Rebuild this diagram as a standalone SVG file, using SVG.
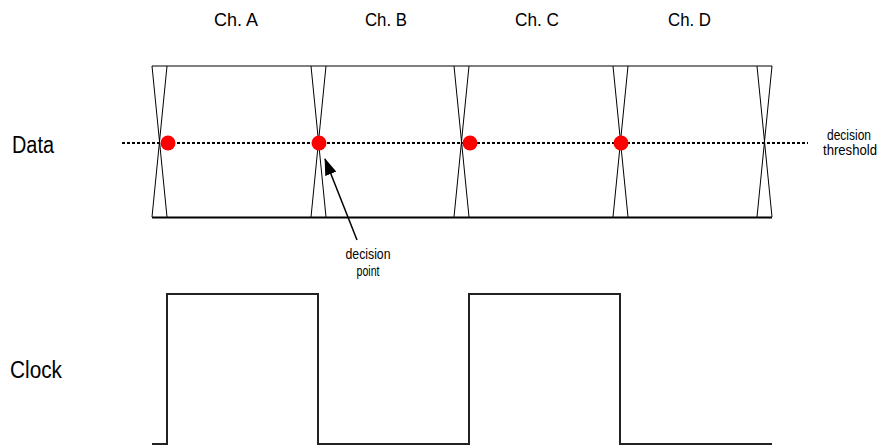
<svg xmlns="http://www.w3.org/2000/svg" width="889" height="448" viewBox="0 0 889 448">
  <style>
    text { font-family: "Liberation Sans", Arial, sans-serif; fill: #000; }
    .ch { font-size: 19px; }
    .big { font-size: 23px; }
    .small { font-size: 14px; }
    .eye { stroke: #000; stroke-width: 1; fill: none; }
    .dot { fill: #ff0000; }
  </style>
  <defs>
    <marker id="ah" viewBox="0 0 17 12" refX="16" refY="6" markerWidth="17" markerHeight="12" markerUnits="userSpaceOnUse" orient="auto">
      <path d="M0,0 L17,6 L0,12 Z" fill="#000"/>
    </marker>
  </defs>
  <rect width="889" height="448" fill="#fff"/>

  <g id="channel-labels">
    <text class="ch" x="214" y="26" textLength="44" lengthAdjust="spacingAndGlyphs">Ch. A</text>
    <text class="ch" x="365" y="26" textLength="42" lengthAdjust="spacingAndGlyphs">Ch. B</text>
    <text class="ch" x="515" y="26" textLength="44" lengthAdjust="spacingAndGlyphs">Ch. C</text>
    <text class="ch" x="668" y="26" textLength="43" lengthAdjust="spacingAndGlyphs">Ch. D</text>
  </g>

  <g id="row-labels">
    <text class="big" x="12" y="153" textLength="42" lengthAdjust="spacingAndGlyphs">Data</text>
    <text class="big" x="10" y="378" textLength="52" lengthAdjust="spacingAndGlyphs">Clock</text>
  </g>

  <g id="data-eye">
    <line x1="152" y1="66" x2="772" y2="66" stroke="#555" stroke-width="1.5"/>
    <line x1="152" y1="217.5" x2="772" y2="217.5" stroke="#000" stroke-width="2"/>
    <path class="eye" d="M152,66 L167,217 M167,66 L152,217
                         M311,66 L326,217 M326,66 L311,217
                         M454,66 L469,217 M469,66 L454,217
                         M613,66 L628,217 M628,66 L613,217
                         M757,66 L772,217 M772,66 L757,217"/>
  </g>

  <g id="threshold">
    <line x1="122" y1="143" x2="808" y2="143" stroke="#000" stroke-width="2" stroke-dasharray="3 2"/>
    <text class="small" x="849" y="140" text-anchor="middle" textLength="44" lengthAdjust="spacingAndGlyphs">decision</text>
    <text class="small" x="850" y="155" text-anchor="middle" textLength="54" lengthAdjust="spacingAndGlyphs">threshold</text>
  </g>

  <g id="decision-dots">
    <circle class="dot" cx="168" cy="143" r="7.5"/>
    <circle class="dot" cx="319" cy="143" r="7.5"/>
    <circle class="dot" cx="470" cy="143" r="7.5"/>
    <circle class="dot" cx="621" cy="143" r="7.5"/>
  </g>

  <g id="connectors">
    <line x1="357" y1="240" x2="325" y2="159" stroke="#000" stroke-width="1.5" marker-end="url(#ah)"/>
  </g>

  <g id="decision-point-label">
    <text class="small" x="368" y="259" text-anchor="middle" textLength="45" lengthAdjust="spacingAndGlyphs">decision</text>
    <text class="small" x="368" y="276" text-anchor="middle" textLength="23" lengthAdjust="spacingAndGlyphs">point</text>
  </g>

  <g id="clock">
    <path d="M152,444 L167,444 L167,294 L318,294 L318,444 L469,444 L469,294 L620,294 L620,444 L772,444" fill="none" stroke="#222" stroke-width="2"/>
  </g>
</svg>
